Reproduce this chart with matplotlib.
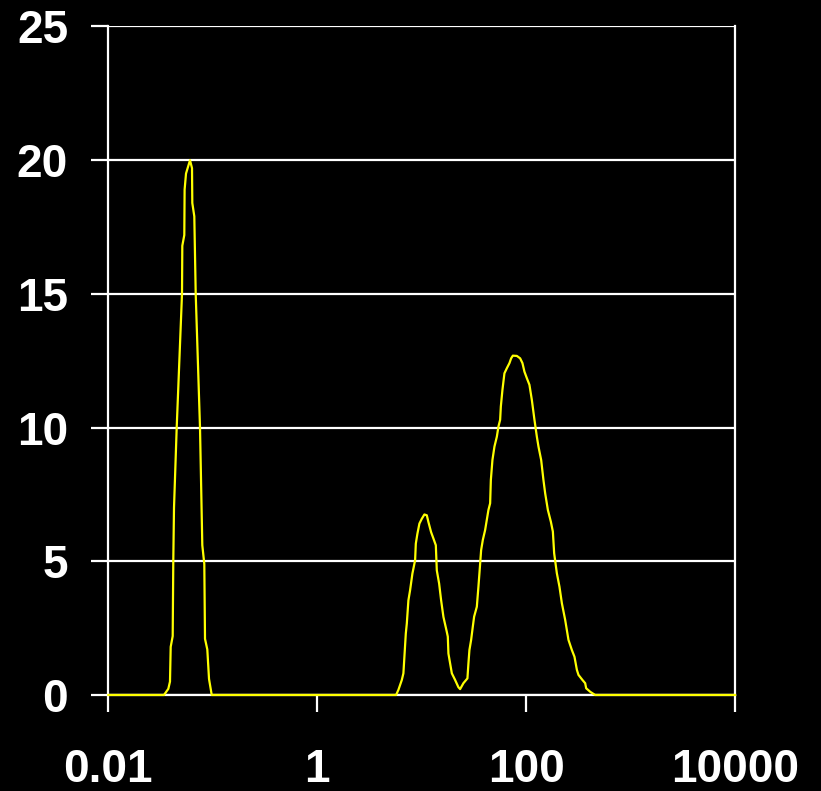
import numpy as np
import matplotlib
matplotlib.use('Agg')
import matplotlib.pyplot as plt

# particle size (um) and volume percent, three modes plus flat baseline
size_um = [
    0.01, 0.03409, 0.03749, 0.03890, 0.03951, 0.04129, 0.04183, 0.04250,
    0.04510, 0.05070, 0.05104, 0.05333, 0.05370, 0.05538, 0.06048, 0.06321,
    0.06362, 0.06649, 0.06858, 0.07539, 0.07931, 0.08289, 0.08418, 0.08857,
    0.09196, 0.09761,
    5.686, 5.982, 6.449, 6.680, 6.829, 7.043, 7.200, 7.458, 7.743, 8.145,
    8.647, 8.781, 9.095, 9.506, 10.02, 10.61, 11.19, 11.59, 12.30, 12.95,
    13.65, 13.95, 14.68, 15.34, 16.14, 17.39, 17.78, 18.02, 18.71, 19.43,
    20.89, 22.46, 23.32,
    25.08, 27.40, 28.01, 28.63, 29.73, 30.86, 31.76, 33.71, 34.92, 35.70,
    37.07, 38.48, 40.48, 43.54, 45.21, 45.92, 47.56, 49.71, 52.41, 54.29,
    56.36, 57.24, 59.29, 61.95, 65.32, 69.18, 71.83, 74.58, 81.45, 87.60,
    92.18, 96.31, 101.5, 107.5, 113.4, 120.1, 126.6, 131.2, 139.2, 146.4,
    152.1, 161.4, 172.4, 180.2, 185.4, 196.8, 208.4, 219.8, 236.3, 254.2,
    274.0, 290.2, 305.9, 317.0, 346.1, 367.4, 375.6, 410.3, 441.1, 458.0,
    10000,
]
volume_pct = [
    0, 0, 0.23, 0.5, 1.8, 2.2, 5.0, 7.0,
    10.0, 15.0, 16.8, 17.2, 18.9, 19.5, 20.0, 19.7,
    18.4, 17.9, 15.0, 10.0, 5.6, 4.9, 2.1, 1.7,
    0.6, 0,
    0, 0.19, 0.56, 0.81, 1.43, 2.30, 2.67, 3.54, 3.92, 4.54,
    5.04, 5.66, 6.03, 6.41, 6.59, 6.75, 6.72, 6.47, 6.09, 5.85,
    5.60, 4.66, 4.17, 3.54, 2.92, 2.36, 2.18, 1.55, 1.18, 0.81,
    0.56, 0.29, 0.22,
    0.44, 0.62, 1.18, 1.68, 2.06, 2.56, 2.93, 3.30, 4.05, 4.55,
    5.42, 5.80, 6.17, 6.92, 7.17, 8.04, 8.79, 9.29, 9.66, 10.04,
    10.29, 10.79, 11.41, 12.03, 12.22, 12.41, 12.59, 12.69, 12.68, 12.59,
    12.41, 12.09, 11.85, 11.60, 11.03, 10.29, 9.66, 9.29, 8.79, 8.04,
    7.54, 6.92, 6.48, 6.11, 5.30, 4.55, 4.05, 3.43, 2.81, 2.06,
    1.68, 1.43, 0.94, 0.75, 0.56, 0.44, 0.25, 0.12, 0.04, 0,
    0,
]

x_ticks = [0.01, 1, 100, 10000]
x_tick_labels = ['0.01', '1', '100', '10000']
y_ticks = [0, 5, 10, 15, 20, 25]

plt.rcParams['font.family'] = ['Liberation Sans', 'DejaVu Sans']

fig = plt.figure(figsize=(8.21, 7.91), dpi=100, facecolor='black')
ax = fig.add_axes([0.132, 0.1214, 0.7633, 0.8451], facecolor='black')

ax.plot(size_um, volume_pct, color='#ffff00', lw=1.6, zorder=3, clip_on=False)

ax.set_xscale('log')
ax.set_xlim(0.01, 10000)
ax.set_ylim(0, 25)
ax.set_xticks(x_ticks)
ax.set_xticklabels(x_tick_labels)
ax.xaxis.set_minor_locator(matplotlib.ticker.NullLocator())
ax.set_yticks(y_ticks)

ax.grid(axis='y', color='white', lw=1.6, zorder=1)
ax.set_axisbelow(True)

for side in ['left', 'bottom', 'right']:
    ax.spines[side].set_color('white')
    ax.spines[side].set_linewidth(1.6)
ax.spines['top'].set_visible(False)

ax.tick_params(axis='x', colors='white', length=12, width=1.6, pad=26,
               labelsize=33)
ax.tick_params(axis='y', colors='white', length=12, width=1.6, pad=17,
               labelsize=33)
for lab in ax.get_xticklabels() + ax.get_yticklabels():
    lab.set_fontweight('bold')

fig.savefig('out.png', dpi=100, facecolor='black')
